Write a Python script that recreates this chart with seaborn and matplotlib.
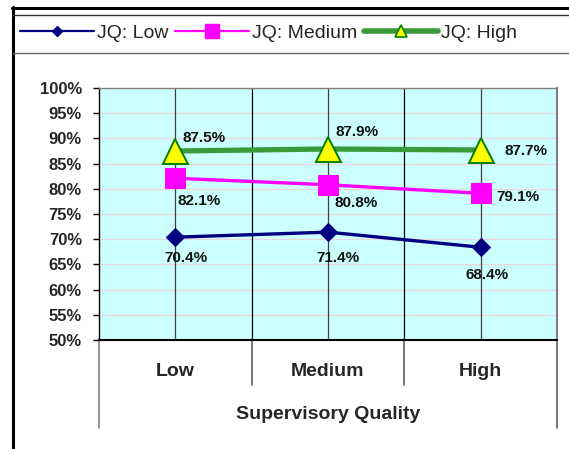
import matplotlib
matplotlib.use("Agg")
import matplotlib.pyplot as plt
from matplotlib.lines import Line2D
import seaborn as sns
import pandas as pd

# ---- data ----
categories = ["Low", "Medium", "High"]
series_names = ["JQ: Low", "JQ: Medium", "JQ: High"]
jq_low = [70.4, 71.4, 68.4]
jq_medium = [82.1, 80.8, 79.1]
jq_high = [87.5, 87.9, 87.7]
y_ticks = [50, 55, 60, 65, 70, 75, 80, 85, 90, 95, 100]
x_title = "Supervisory Quality"

# ---- layout helpers (pixel -> figure fraction) ----
W, H, DPI = 569, 449, 100


def fx(px):
    return px / W


def fy(py):
    return 1 - py / H


sns.set_style("white")
plt.rcParams["font.family"] = ["Liberation Sans", "DejaVu Sans"]

fig = plt.figure(figsize=(W / DPI, H / DPI), dpi=DPI)
fig.patch.set_facecolor("white")
ax = fig.add_axes([fx(99), fy(340), fx(557) - fx(99), fy(88) - fy(340)])
ax.set_facecolor("#CCFFFF")

df = pd.DataFrame({
    "pos": list(range(len(categories))) * 3,
    "value": jq_low + jq_medium + jq_high,
    "series": [s for s in series_names for _ in categories],
})

styles = {
    "JQ: Low": dict(color="#000080", linewidth=2.4, marker="D", markersize=9.6,
                    markerfacecolor="#000080", markeredgecolor="#000080", zorder=4),
    "JQ: Medium": dict(color="#FF00FF", linewidth=2.4, marker="s", markersize=14,
                       markerfacecolor="#FF00FF", markeredgecolor="#FF00FF", zorder=4),
    "JQ: High": dict(color="#3A9A3A", linewidth=3.8, marker="^", markersize=18,
                     markerfacecolor="#FFFF00", markeredgecolor="#008000",
                     markeredgewidth=1.4, zorder=5),
}

# gridlines and category separators inside the plot area
ax.set_ylim(50, 100)
ax.set_xlim(-0.5, len(categories) - 0.5)
ax.set_yticks(y_ticks)
ax.set_yticklabels([f"{v}%" for v in y_ticks], fontsize=12, fontweight="bold")
ax.yaxis.grid(True, color="#E8D8DE", linewidth=1)
ax.xaxis.grid(False)
ax.set_axisbelow(True)
for i in range(len(categories)):
    ax.axvline(i, color="#404040", linewidth=0.9, zorder=1)
for i in range(len(categories) - 1):
    ax.axvline(i + 0.5, color="black", linewidth=0.9, zorder=1)

for name in series_names:
    sub = df[df["series"] == name]
    sns.lineplot(data=sub, x="pos", y="value", ax=ax, legend=False, **styles[name])

# value labels (offsets in pixels relative to each point)
label_offsets = {
    "JQ: Low": [(10.5, -20.5), (10, -26), (6.5, -27.7)],
    "JQ: Medium": [(23.6, -22.5), (28, -18), (37, -3.7)],
    "JQ: High": [(28.5, 12.7), (29, 17), (45, -1)],
}
for name, vals in zip(series_names, [jq_low, jq_medium, jq_high]):
    for i, v in enumerate(vals):
        dx, dy = label_offsets[name][i]
        ax.annotate(f"{v:.1f}%", (i, v), xytext=(dx * 0.72, dy * 0.72),
                    textcoords="offset points", ha="center", va="center",
                    fontsize=11, fontweight="bold", color="#111111", zorder=6)

# axes styling
ax.set_xticks(range(len(categories)))
ax.set_xticklabels(categories, fontsize=14, fontweight="bold")
ax.tick_params(axis="x", length=0, pad=16.5)
ax.tick_params(axis="y", left=True, length=4.3, width=1, direction="out", pad=8,
               color="black")
ax.set_xlabel(x_title, fontsize=14, fontweight="bold", labelpad=18.5)
ax.set_ylabel("")
ax.spines["left"].set_color("black")
ax.spines["left"].set_linewidth(1)
ax.spines["bottom"].set_color("black")
ax.spines["bottom"].set_linewidth(1.5)
ax.spines["top"].set_color("#808080")
ax.spines["top"].set_linewidth(1)
ax.spines["right"].set_color("#808080")
ax.spines["right"].set_linewidth(1.5)

# category table lines below the plot
tbl_bottom = (340 - 428) / 252
sep_bottom = (340 - 385) / 252
ax.plot([0, 0], [0, tbl_bottom], transform=ax.transAxes, clip_on=False,
        color="#808080", linewidth=1.2)
ax.plot([1, 1], [0, tbl_bottom], transform=ax.transAxes, clip_on=False,
        color="#606060", linewidth=1.2)
for k in range(1, len(categories)):
    xk = k / len(categories)
    ax.plot([xk, xk], [0, sep_bottom], transform=ax.transAxes, clip_on=False,
            color="#606060", linewidth=1.2)

# legend strip
handles = [
    Line2D([], [], color="#000080", linewidth=1.6, marker="D", markersize=5,
           markerfacecolor="#000080", markeredgecolor="#000080"),
    Line2D([], [], color="#FF00FF", linewidth=1.6, marker="s", markersize=9.5,
           markerfacecolor="#FF00FF", markeredgecolor="#FF00FF"),
    Line2D([], [], color="#3A9A3A", linewidth=4.0, marker="^", markersize=9,
           markerfacecolor="#FFFF00", markeredgecolor="#008000", markeredgewidth=1.2),
]
fig.legend(handles, series_names, loc="center left", bbox_to_anchor=(fx(20), fy(33)),
           ncol=3, frameon=False, fontsize=14, handlelength=3.8, handletextpad=0.15,
           columnspacing=0.35, borderaxespad=0, borderpad=0)

# chart frame
fig.add_artist(Line2D([fx(13), fx(13)], [fy(7), fy(449)], color="black", linewidth=2.2))
fig.add_artist(Line2D([fx(12), fx(569)], [fy(8), fy(8)], color="black", linewidth=2.2))
fig.add_artist(Line2D([fx(13), fx(569)], [fy(15), fy(15)], color="#333333", linewidth=1))
fig.add_artist(Line2D([fx(13), fx(569)], [fy(53), fy(53)], color="#666666", linewidth=1))

fig.savefig("out.png", dpi=DPI, facecolor="white")
